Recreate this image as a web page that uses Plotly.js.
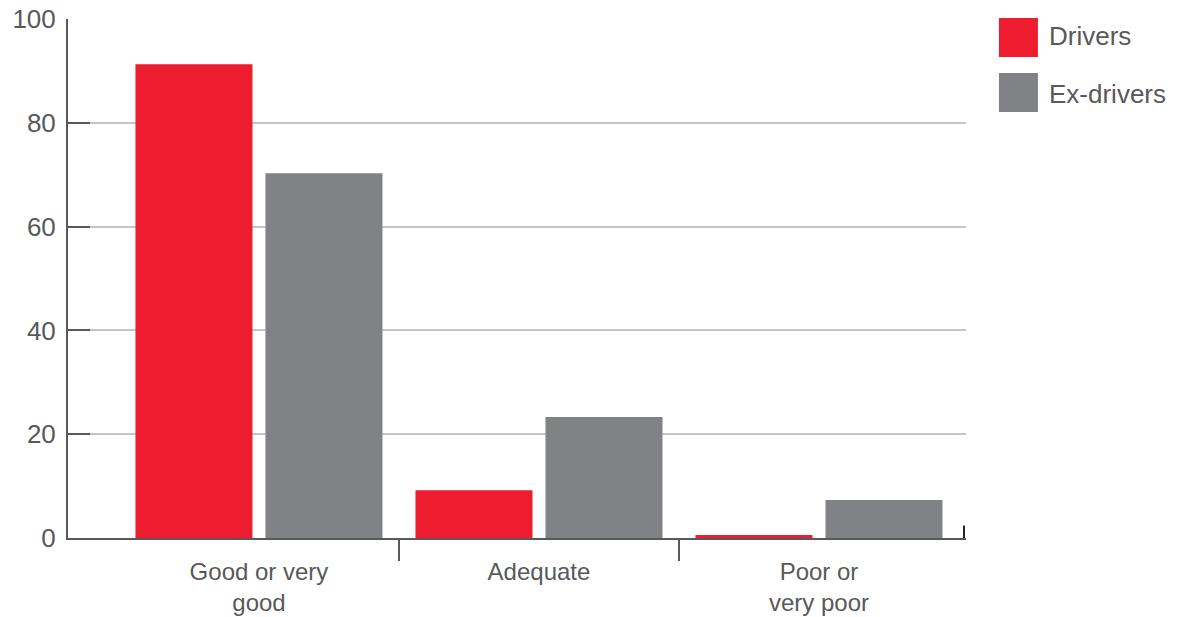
<!DOCTYPE html>
<html><head><meta charset="utf-8">
<script src="https://cdn.plot.ly/plotly-3.0.1.min.js"></script>
<style>html,body{margin:0;padding:0;background:#fff}#chart{width:1178px;height:617px}</style>
</head><body><div id="chart"></div>
<script>
const categories = ['Good or very<br>good', 'Adequate', 'Poor or<br>very poor'];
const seriesNames = ['Drivers', 'Ex-drivers'];
const drivers = [91.3, 9.2, 0.6];
const exDrivers = [70.3, 23.3, 7.3];
const yTicks = [0, 20, 40, 60, 80, 100];
const separatorTicks = [0.5, 1.5];
const colors = ['#ED1C2E', '#808285'];

const txt = '#58595B';
const font = 'Liberation Sans, Arial, Helvetica, sans-serif';

const traces = [
  {type: 'bar', name: seriesNames[0], x: categories, y: drivers, marker: {color: colors[0]}, showlegend: false, hoverinfo: 'y'},
  {type: 'bar', name: seriesNames[1], x: categories, y: exDrivers, marker: {color: colors[1]}, showlegend: false, hoverinfo: 'y'},
  {type: 'scatter', x: [], y: [], xaxis: 'x2', yaxis: 'y', showlegend: false, hoverinfo: 'skip'}
];

const legendX0 = 1.0367, legendW = 0.0434, legendH = 0.0752;
const legendTops = [1.0019, 0.8960];
const legendTextY = [0.9672, 0.8555];
const shapes = seriesNames.map((n, i) => ({
  type: 'rect', xref: 'paper', yref: 'paper',
  x0: legendX0, x1: legendX0 + legendW, y0: legendTops[i] - legendH, y1: legendTops[i],
  fillcolor: colors[i], line: {width: 0}
}));
shapes.push({type: 'line', xref: 'paper', yref: 'paper', x0: 0.9978, x1: 0.9978, y0: 0, y1: 0.024, line: {color: '#222', width: 2}});

const annotations = seriesNames.map((n, i) => ({
  xref: 'paper', yref: 'paper', x: 1.0900, y: legendTextY[i],
  xanchor: 'left', yanchor: 'middle', text: n, showarrow: false,
  font: {family: font, size: 26, color: txt}
}));

const layout = {
  width: 1178, height: 617,
  margin: {l: 68, r: 212, t: 19, b: 79},
  paper_bgcolor: '#fff', plot_bgcolor: '#fff',
  barmode: 'group', bargap: 0.0714, bargroupgap: 0.1,
  font: {family: font, color: txt},
  xaxis: {
    type: 'category', range: [-0.682, 2.525], fixedrange: true,
    showline: true, linecolor: '#58595B', linewidth: 2,
    ticks: '', showgrid: false, zeroline: false,
    tickfont: {family: font, size: 24, color: txt},
    ticklabelstandoff: 11
  },
  xaxis2: {
    overlaying: 'x', anchor: 'y', type: 'linear', range: [-0.682, 2.525],
    tickmode: 'array', tickvals: separatorTicks, ticks: 'outside', ticklen: 22, tickwidth: 2,
    tickcolor: '#58595B', showticklabels: false, showgrid: false, zeroline: false, showline: false
  },
  yaxis: {
    range: [0, 100], tickmode: 'array', tickvals: yTicks,
    ticks: 'inside', ticklen: 22, tickwidth: 2, tickcolor: '#58595B',
    showline: true, linecolor: '#58595B', linewidth: 2,
    showgrid: true, gridcolor: '#C6C6C6', gridwidth: 2, zeroline: false,
    tickfont: {family: font, size: 26, color: txt},
    ticklabelstandoff: 5
  },
  shapes: shapes,
  annotations: annotations
};

Plotly.newPlot('chart', traces, layout, {displayModeBar: false, staticPlot: true});
</script>
</body></html>
